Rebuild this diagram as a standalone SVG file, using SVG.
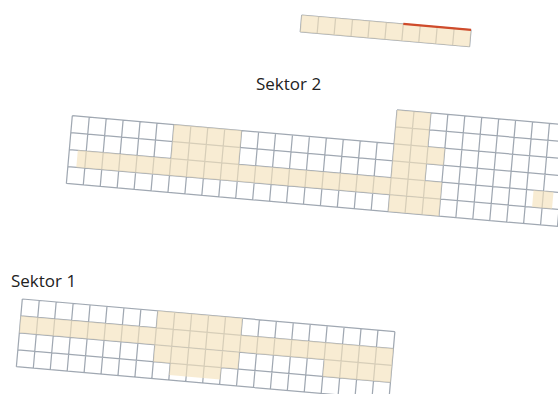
<svg xmlns="http://www.w3.org/2000/svg" width="558" height="394" viewBox="0 0 558 394">
  <style>
    .grid { fill: none; stroke: #a0a8b2; stroke-width: 1.25; }
    .hl { fill: #f4e2bb; fill-opacity: 0.65; stroke: none; }
    .label { font-family: "Open Sans", "Liberation Sans", sans-serif; font-size: 17px; fill: #222; }
    .mark { fill: none; stroke: #cf4b2b; stroke-width: 2.2; }
  </style>
  <rect width="558" height="394" fill="#fff"/>

  <g id="top-strip" transform="translate(301.7,15) rotate(5)">
    <path class="grid" d="M0 0H170M0 17H170M0 0V17M17 0V17M34 0V17M51 0V17M68 0V17M85 0V17M102 0V17M119 0V17M136 0V17M153 0V17M170 0V17"/>
    <path class="hl" d="M0 0H170V17H0Z"/>
    <path class="mark" d="M102 0H170"/>
  </g>

  <g id="label-sektor-2">
    <text class="label" x="256" y="90">Sektor 2</text>
  </g>

  <g id="sektor-2" transform="translate(72.3,115.7) rotate(5)">
    <path class="grid" d="M0 0H510M0 17H510M0 34H510M0 51H510M0 68H510M323 -34H510M323 -17H510
      M0 0V68M17 0V68M34 0V68M51 0V68M68 0V68M85 0V68M102 0V68M119 0V68M136 0V68M153 0V68M170 0V68M187 0V68M204 0V68M221 0V68M238 0V68M255 0V68M272 0V68M289 0V68M306 0V68
      M323 -34V68M340 -34V68M357 -34V68M374 -34V68M391 -34V68M408 -34V68M425 -34V68M442 -34V68M459 -34V68M476 -34V68M493 -34V68M510 -34V68"/>
    <path class="hl" d="M102 0H170V34H102Z M8.5 34H374V51H8.5Z M323 -34H357V0H374V17H357V34H323Z M323 51H374V68H323Z M466 34H486V51H466Z"/>
  </g>

  <g id="label-sektor-1">
    <text class="label" x="11" y="287">Sektor 1</text>
  </g>

  <g id="sektor-1" transform="translate(22.3,299) rotate(5)">
    <path class="grid" d="M0 0H374M0 17H374M0 34H374M0 51H374M0 68H374
      M0 0V68M17 0V68M34 0V68M51 0V68M68 0V68M85 0V68M102 0V68M119 0V68M136 0V68M153 0V68M170 0V68M187 0V68M204 0V68M221 0V68M238 0V68M255 0V68M272 0V68M289 0V68M306 0V68M323 0V68M340 0V68M357 0V68M374 0V68"/>
    <path class="hl" d="M136 0H221V17H136Z M0 17H374V34H0Z M136 34H221V51H136Z M306 34H374V51H306Z M153 51H204V63H153Z"/>
  </g>
</svg>
